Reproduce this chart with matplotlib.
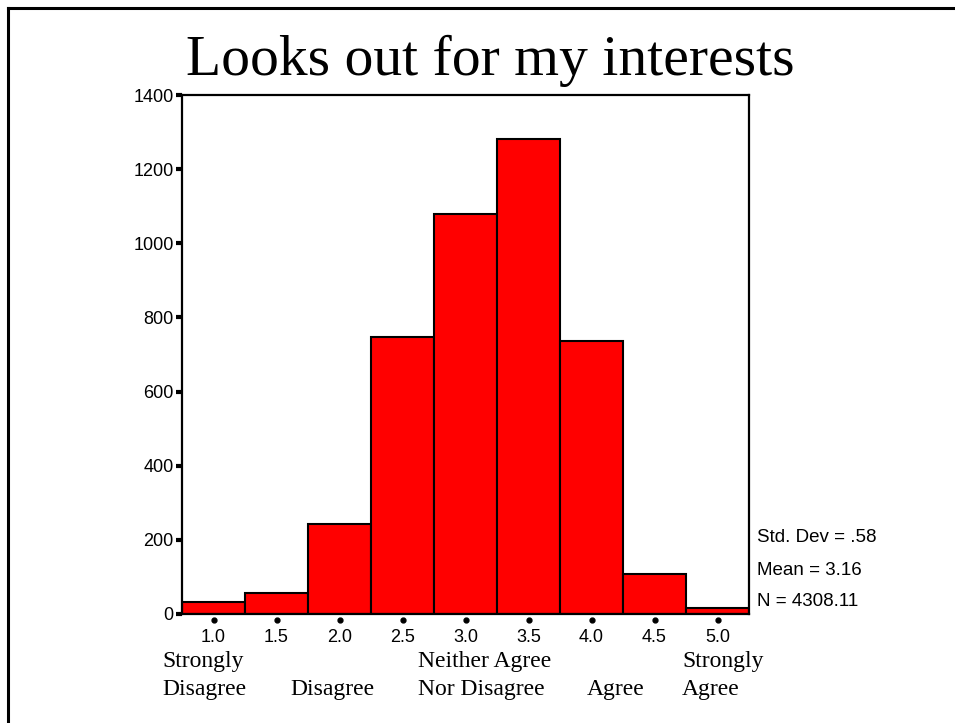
import numpy as np
import matplotlib
matplotlib.use('Agg')
import matplotlib.pyplot as plt
import matplotlib.transforms as mtransforms
from matplotlib.lines import Line2D

# === Data ===
bin_centers = [1.0, 1.5, 2.0, 2.5, 3.0, 3.5, 4.0, 4.5, 5.0]
counts = [33, 57, 243, 746, 1078, 1280, 736, 108, 15]
tick_labels = ['1.0', '1.5', '2.0', '2.5', '3.0', '3.5', '4.0', '4.5', '5.0']
y_ticks = [0, 200, 400, 600, 800, 1000, 1200, 1400]
cat_line1 = ['Strongly', '', 'Neither Agree', '', 'Strongly']
cat_line2 = ['Disagree', 'Disagree', 'Nor Disagree', 'Agree', 'Agree']
stats_lines = ['Std. Dev = .58', 'Mean = 3.16', 'N = 4308.11']
title = 'Looks out for my interests'

# === Layout (pixels) ===
W, H = 955, 723
cat_x_px = [162, 290, 418, 587, 682]
cat_rows_px = [667, 695]
stats_y_px = [542, 575, 606]

serif = ['Liberation Serif', 'DejaVu Serif']
sans = ['Liberation Sans', 'DejaVu Sans']

fig = plt.figure(figsize=(W / 100, H / 100), dpi=100)
ax = fig.add_axes([182 / W, (H - 614) / H, (749 - 182) / W, (614 - 95) / H])

ax.bar(bin_centers, counts, width=0.5, color='#ff0000', edgecolor='black', linewidth=1.5)
ax.set_xlim(0.75, 5.25)
ax.set_ylim(0, 1400)

for sp in ax.spines.values():
    sp.set_linewidth(1.6)

ax.set_yticks(y_ticks)
ax.set_yticklabels([str(v) for v in y_ticks], fontfamily=sans, fontsize=13)
ax.tick_params(axis='y', length=4, width=3, pad=2, direction='out')

# x ticks drawn as detached dots below the axis
ax.set_xticks(bin_centers)
ax.set_xticklabels(tick_labels, fontfamily=sans, fontsize=13)
ax.tick_params(axis='x', length=0, pad=11)
trans = mtransforms.blended_transform_factory(ax.transData, ax.transAxes)
ax.plot(bin_centers, [-0.011] * len(bin_centers), 'o', color='black', ms=3.5,
        transform=trans, clip_on=False)

# title
fig.text(490 / W, 1 - 75 / H, title, ha='center', va='baseline',
         fontfamily=serif, fontsize=41.5)

# category labels under the axis
for l1, l2, xp in zip(cat_line1, cat_line2, cat_x_px):
    for txt, yp in zip([l1, l2], cat_rows_px):
        if txt:
            fig.text(xp / W, 1 - yp / H, txt, ha='left', va='baseline',
                     fontfamily=serif, fontsize=17)

# stats text
for s, yp in zip(stats_lines, stats_y_px):
    fig.text(757 / W, 1 - yp / H, s, ha='left', va='baseline',
             fontfamily=sans, fontsize=13.5)

# frame lines (top and left only)
fig.add_artist(Line2D([8 / W, 1], [1 - 8 / H, 1 - 8 / H], color='black', lw=2.2,
                      transform=fig.transFigure))
fig.add_artist(Line2D([8 / W, 8 / W], [0, 1 - 8 / H], color='black', lw=2.2,
                      transform=fig.transFigure))

fig.savefig('out.png', dpi=100)
